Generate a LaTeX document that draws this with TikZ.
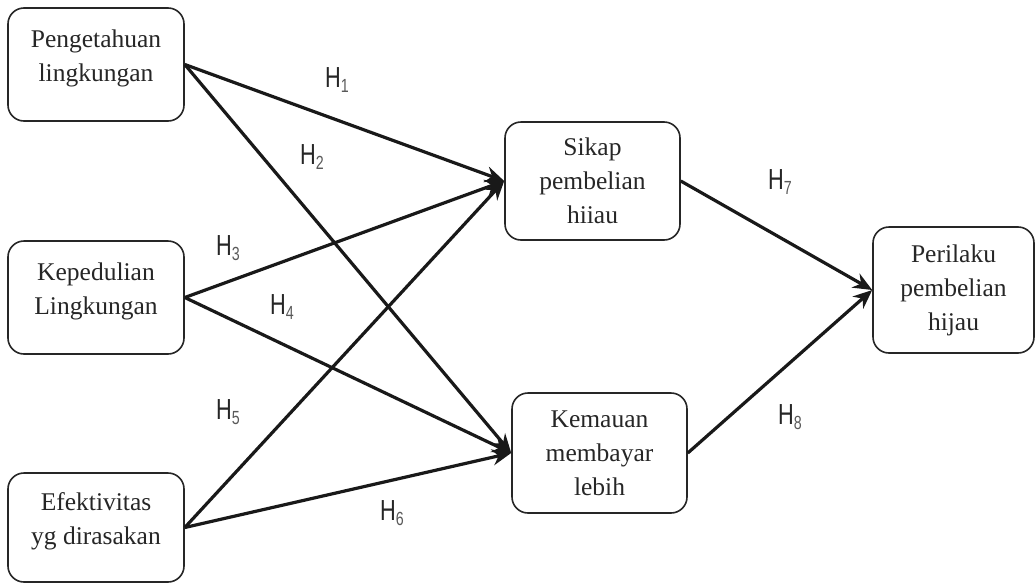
\documentclass[tikz,border=0pt]{standalone}
\usepackage{fontspec}
\setmainfont{Liberation Serif}
\newfontfamily\labfont[FakeStretch=0.75]{Liberation Sans}
\usetikzlibrary{arrows.meta}
\newcommand{\hsub}[1]{H\raisebox{-0.3ex}{\fontsize{19}{19}\selectfont\color{black!65}#1}}
\begin{document}
\begin{tikzpicture}[x=1pt,y=-1pt,
  box/.style={draw=black!85, line width=1.6pt, rounded corners=16pt, inner sep=0pt, align=center,
    font=\fontsize{25.5}{34}\selectfont, text=black!85},
  conn/.style={draw=black!90, line width=3.2pt, -{Stealth[length=19pt,width=16pt]}},
  hyp/.style={font=\labfont\fontsize{29}{30}\selectfont, text=black!85, inner sep=0pt}]
\useasboundingbox (0,0) rectangle (1036,584);
\node[box, minimum width=176pt, minimum height=113pt] (pl) at (96,64.5) {Pengetahuan\\lingkungan\\[-27pt]\strut};
\node[box, minimum width=176pt, minimum height=113pt] (kl) at (96,297.5) {Kepedulian\\Lingkungan\\[-27pt]\strut};
\node[box, minimum width=176pt, minimum height=109pt] (ef) at (96,527.5) {Efektivitas\\yg dirasakan\\[-27pt]\strut};
\node[box, minimum width=175pt, minimum height=118pt] (sp) at (592.5,181) {Sikap\\pembelian\\hiiau};
\node[box, minimum width=175pt, minimum height=120pt] (km) at (599.5,453) {Kemauan\\membayar\\lebih};
\node[box, minimum width=161pt, minimum height=126pt] (ph) at (953.5,290) {Perilaku\\pembelian\\hijau};
\draw[conn] (pl.east) -- (sp.west);
\draw[conn] (pl.east) -- (km.west);
\draw[conn] (kl.east) -- (sp.west);
\draw[conn] (kl.east) -- (km.west);
\draw[conn] (ef.east) -- (sp.west);
\draw[conn] (ef.east) -- (km.west);
\draw[conn] (sp.east) -- (ph.west);
\draw[conn] (km.east) -- (ph.west);
\node[hyp] (h1) at (337,80) {\hsub{1}};
\node[hyp] (h2) at (312,157) {\hsub{2}};
\node[hyp] (h3) at (228,248) {\hsub{3}};
\node[hyp] (h4) at (282,307) {\hsub{4}};
\node[hyp] (h5) at (228,412) {\hsub{5}};
\node[hyp] (h6) at (392,513) {\hsub{6}};
\node[hyp] (h7) at (780,182) {\hsub{7}};
\node[hyp] (h8) at (790,417) {\hsub{8}};
\end{tikzpicture}
\end{document}
